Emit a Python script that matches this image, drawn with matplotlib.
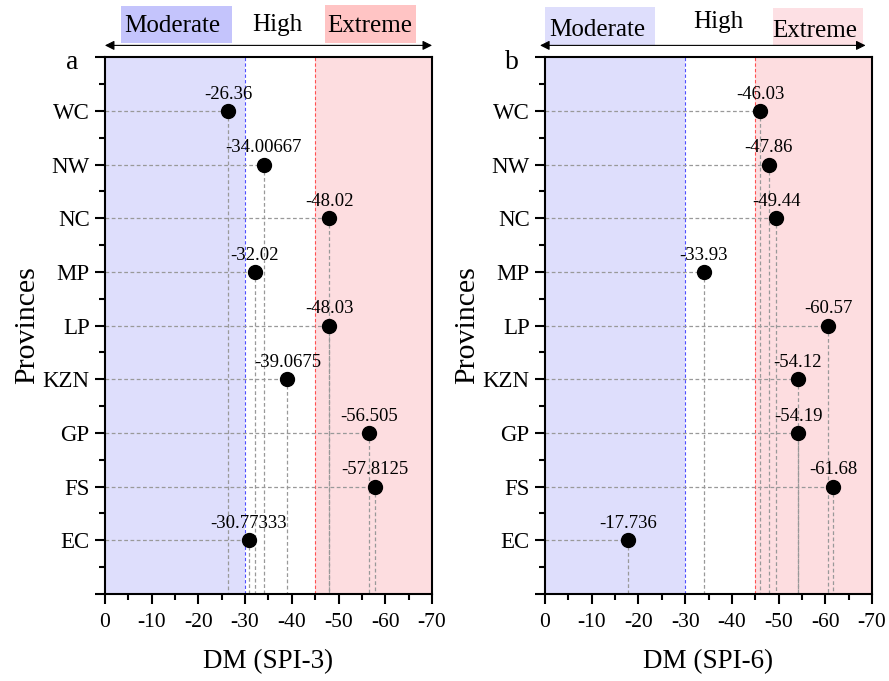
import matplotlib.pyplot as plt
from matplotlib.patches import Rectangle
from matplotlib.ticker import MultipleLocator

plt.rcParams['font.family'] = ['Liberation Serif', 'DejaVu Serif']

provinces = ['EC', 'FS', 'GP', 'KZN', 'LP', 'MP', 'NC', 'NW', 'WC']
dm_spi3 = [-30.77333, -57.8125, -56.505, -39.0675, -48.03, -32.02, -48.02, -34.00667, -26.36]
dm_spi6 = [-17.736, -61.68, -54.19, -54.12, -60.57, -33.93, -49.44, -47.86, -46.03]
x_ticks = [0, -10, -20, -30, -40, -50, -60, -70]

fig = plt.figure(figsize=(8.89, 6.81), dpi=100)
ax_a = fig.add_axes([0.118, 0.128, 0.368, 0.788])
ax_b = fig.add_axes([0.613, 0.128, 0.368, 0.788])

# header layout per panel, in axes fraction
headers = {
    'a': dict(mod_box=(0.049, 1.026, 0.339, 0.069), mod_txt=(0.205, 1.058),
              high_txt=(0.526, 1.060), ext_box=(0.673, 1.026, 0.278, 0.071),
              ext_txt=(0.810, 1.058), mod_c='#c4c4fc', ext_c='#ffc4c4', arrow=(0.0, 1.0)),
    'b': dict(mod_box=(0.0, 1.022, 0.336, 0.071), mod_txt=(0.159, 1.050),
              high_txt=(0.529, 1.066), ext_box=(0.697, 1.022, 0.275, 0.069),
              ext_txt=(0.826, 1.048), mod_c='#dedefc', ext_c='#fde0e4', arrow=(-0.015, 0.98)),
}

for ax, vals, lab, xlabel in [(ax_a, dm_spi3, 'a', 'DM (SPI-3)'), (ax_b, dm_spi6, 'b', 'DM (SPI-6)')]:
    ypos = list(range(1, len(provinces) + 1))
    ax.axvspan(0, -30, color='#dedefc', zorder=0, lw=0)
    ax.axvspan(-45, -70, color='#fddde0', zorder=0, lw=0)
    ax.axvline(-30, color='#5050ff', ls=(0, (3, 2)), lw=0.8, zorder=1)
    ax.axvline(-45, color='#ff5050', ls=(0, (3, 2)), lw=0.8, zorder=1)
    for y, v in zip(ypos, vals):
        ax.plot([0, v], [y, y], color='#999999', ls=(0, (3, 2)), lw=0.9, zorder=2)
        ax.plot([v, v], [y, 0], color='#999999', ls=(0, (3, 2)), lw=0.9, zorder=2)
        ax.annotate(str(v), (v, y), xytext=(0, 6), textcoords='offset points',
                    ha='center', va='bottom', fontsize=13.5, zorder=4)
    ax.plot(vals, ypos, 'o', color='black', markersize=10, zorder=3)

    ax.set_xlim(0, -70)
    ax.set_ylim(0, 10)
    ax.set_xticks(x_ticks)
    ax.set_xticklabels([str(t) for t in x_ticks])
    ax.xaxis.set_minor_locator(MultipleLocator(5))
    ax.set_yticks(range(0, 11))
    ax.set_yticklabels([''] + provinces + [''])
    ax.yaxis.set_minor_locator(MultipleLocator(0.5))
    ax.tick_params(which='major', direction='out', length=7, width=1.5, pad=4)
    ax.tick_params(which='minor', direction='out', length=4, width=1.5)
    ax.tick_params(axis='x', which='major', pad=7, labelsize=15.5)
    ax.tick_params(axis='y', which='major', labelsize=16.5)
    for s in ax.spines.values():
        s.set_linewidth(1.5)
    ax.set_xlabel(xlabel, fontsize=19.5, labelpad=12)
    ax.set_ylabel('Provinces', fontsize=21.5, labelpad=2)

    h = headers[lab]
    for box, c in [(h['mod_box'], h['mod_c']), (h['ext_box'], h['ext_c'])]:
        ax.add_patch(Rectangle(box[:2], box[2], box[3], transform=ax.transAxes,
                               facecolor=c, edgecolor='none', clip_on=False, zorder=0))
    ax.text(*h['mod_txt'], 'Moderate', transform=ax.transAxes, ha='center', va='center', fontsize=18)
    ax.text(*h['high_txt'], 'High', transform=ax.transAxes, ha='center', va='center', fontsize=18)
    ax.text(*h['ext_txt'], 'Extreme', transform=ax.transAxes, ha='center', va='center', fontsize=18)
    ax.annotate('', xy=(h['arrow'][0], 1.022), xytext=(h['arrow'][1], 1.022),
                xycoords='axes fraction', textcoords='axes fraction',
                arrowprops=dict(arrowstyle='<|-|>', color='black', lw=0.8,
                                mutation_scale=14, shrinkA=0, shrinkB=0))
    ax.text(-0.1, 0.978, lab, transform=ax.transAxes, ha='center', va='baseline', fontsize=20)

fig.savefig('out.png', dpi=100)
